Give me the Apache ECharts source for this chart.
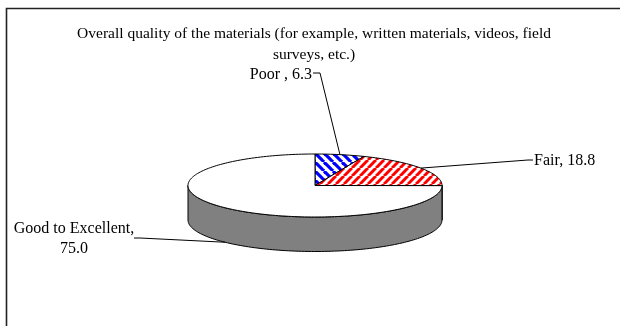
<!DOCTYPE html>
<html>
<head>
<meta charset="utf-8">
<script src="https://cdn.jsdelivr.net/npm/echarts@6/dist/echarts.min.js"></script>
<style>
  html, body { margin: 0; padding: 0; background: #fff; }
  #chart { width: 620px; height: 326px; }
</style>
</head>
<body>
<div id="chart"></div>
<script>
// Survey result: rating of course materials (percent of respondents)
const chartTitle = 'Overall quality of the materials (for example, written materials, videos, field\nsurveys, etc.)';
const categories = ['Poor ', 'Fair', 'Good to Excellent'];
const shares = [6.3, 18.8, 75.0];

// Pie geometry (tilted disc)
const CX = 315, CY = 185.5, RX = 127, RY = 31.5, DEPTH = 34.5;
const FONT = '16px "Liberation Serif", "Times New Roman", serif';

// Label placement: where each text sits and where its leader bends
const labelSpots = [
  { x: 312, y: 75, align: 'right', bend: [320, 73], end: [313, 73], anchor: 'top' },
  { x: 534, y: 161, align: 'left', bend: [528, 160], end: [533, 160], anchor: 'top' },
  { x: 74, y: 229, align: 'center', bend: [140, 238], end: [134, 238], anchor: 'bottom' }
];

function stripePattern(color, period, dir, width) {
  const c = document.createElement('canvas');
  c.width = period; c.height = period;
  const g = c.getContext('2d');
  g.fillStyle = '#fff';
  g.fillRect(0, 0, period, period);
  g.strokeStyle = color;
  g.lineWidth = width;
  for (let o = -period; o <= period; o += period) {
    g.beginPath();
    if (dir === 'down') { g.moveTo(o, 0); g.lineTo(o + period, period); }
    else { g.moveTo(o, period); g.lineTo(o + period, 0); }
    g.stroke();
  }
  return { image: c, repeat: 'repeat' };
}

const fills = [
  stripePattern('#0000ff', 9, 'down', 3.2),
  stripePattern('#ff0000', 8, 'up', 3.0),
  '#ffffff'
];

const total = shares.reduce((a, b) => a + b, 0);
const starts = [];
let acc = 0;
shares.forEach(v => { starts.push(acc / total * 360); acc += v; });

// angle measured clockwise from 12 o'clock
function rim(deg, dy) {
  const t = deg * Math.PI / 180;
  return [CX + RX * Math.sin(t), CY - RY * Math.cos(t) + (dy || 0)];
}
function arc(a0, a1, dy) {
  const pts = [];
  const n = Math.max(2, Math.ceil(Math.abs(a1 - a0) / 1.5));
  for (let k = 0; k <= n; k++) pts.push(rim(a0 + (a1 - a0) * k / n, dy));
  return pts;
}

function renderSide(params, api) {
  const i = params.dataIndex;
  const a0 = starts[i], a1 = a0 + api.value(0) / total * 360;
  const s = Math.max(a0, 90), e = Math.min(a1, 270);
  if (e <= s) return { type: 'group', children: [] };
  const pts = arc(s, e, 0).concat(arc(e, s, DEPTH));
  return {
    type: 'polygon',
    shape: { points: pts },
    style: { fill: '#808080', stroke: '#000', lineWidth: 1 }
  };
}

function renderTop(params, api) {
  const i = params.dataIndex;
  const v = api.value(0);
  const a0 = starts[i], a1 = a0 + v / total * 360;
  const pts = [[CX, CY]].concat(arc(a0, a1, 0));
  const spot = labelSpots[i];
  const mid = (a0 + a1) / 2;
  const anchorPt = rim(mid, spot.anchor === 'bottom' ? DEPTH : 0);
  const name = categories[i];
  const text = spot.align === 'center'
    ? name + ',\n' + v.toFixed(1)
    : name + ', ' + v.toFixed(1);
  return {
    type: 'group',
    children: [
      {
        type: 'polygon',
        shape: { points: pts },
        style: { fill: fills[i], stroke: '#000', lineWidth: 1 }
      },
      {
        type: 'polyline',
        shape: { points: [anchorPt, spot.bend, spot.end] },
        style: { stroke: '#000', lineWidth: 1, fill: null }
      },
      {
        type: 'text',
        style: {
          text: text,
          x: spot.x,
          y: spot.y,
          font: FONT,
          fill: '#000',
          align: spot.align,
          verticalAlign: 'middle',
          lineHeight: 20
        },
        // multi-line label: first line centred on y
        y: spot.align === 'center' ? 10 : 0
      }
    ]
  };
}

const seriesData = shares.map((v, i) => ({ name: categories[i], value: v }));

const chart = echarts.init(document.getElementById('chart'), null, { renderer: 'canvas' });
chart.setOption({
  animation: false,
  backgroundColor: '#fff',
  title: {
    text: chartTitle,
    left: 309,
    top: 18,
    textAlign: 'center',
    textStyle: {
      fontFamily: '"Liberation Serif", "Times New Roman", serif',
      fontSize: 15.5,
      fontWeight: 'normal',
      color: '#000',
      lineHeight: 21
    }
  },
  graphic: [{
    type: 'rect',
    shape: { x: 6.5, y: 8.5, width: 640, height: 340 },
    style: { fill: null, stroke: '#222', lineWidth: 1.6 },
    z: 100
  }],
  series: [
    { type: 'custom', coordinateSystem: 'none', data: seriesData, renderItem: renderSide, z: 1 },
    { type: 'custom', coordinateSystem: 'none', data: seriesData, renderItem: renderTop, z: 2 }
  ]
});
</script>
</body>
</html>
